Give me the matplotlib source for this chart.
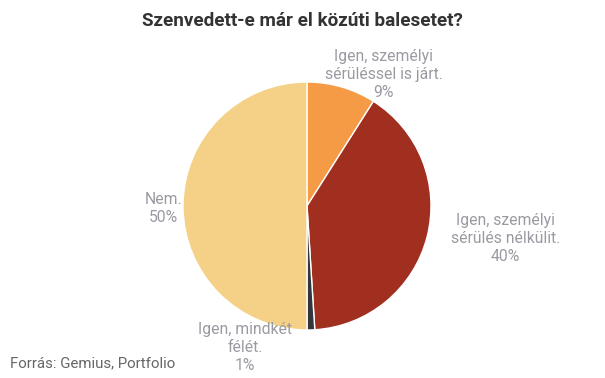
import matplotlib.pyplot as plt

plt.rcParams['font.family'] = ['Roboto', 'DejaVu Sans']

categories = ["Igen, személyi\nsérüléssel is járt.", "Igen, személyi\nsérülés nélkülit.",
              "Igen, mindkét\nfélét.", "Nem."]
shares = [9, 40, 1, 50]
colors = ["#F59B45", "#A12F20", "#33363D", "#F4D186"]

# label anchor points in axes fraction (pie axes spans the circle)
label_pos = [(0.81, 1.03), (1.30, 0.367), (0.25, -0.07), (-0.08, 0.49)]

fig = plt.figure(figsize=(6.05, 3.78), dpi=100)
ax = fig.add_axes([(307 - 124) / 605, (378 - 206 - 124) / 378, 248 / 605, 248 / 378])

ax.pie(shares, colors=colors, startangle=90, counterclock=False,
       wedgeprops=dict(edgecolor='white', linewidth=1))
ax.set_xlim(-1, 1)
ax.set_ylim(-1, 1)
ax.set_aspect('equal')
ax.axis('off')

for cat, val, (x, y) in zip(categories, shares, label_pos):
    ax.text(x, y, f"{cat}\n{val}%", transform=ax.transAxes, ha='center', va='center',
            fontsize=11.3, color='#9A9AA2', linespacing=1.25, clip_on=False)

fig.text(0.5, 0.945, "Szenvedett-e már el közúti balesetet?", ha='center', va='center',
         fontsize=13.6, fontweight='bold', color='#333333')
fig.text(10 / 605, 1 - 363 / 378, "Forrás: Gemius, Portfolio", ha='left', va='center',
         fontsize=10.8, color='#666666')

fig.savefig('out.png', dpi=100)
